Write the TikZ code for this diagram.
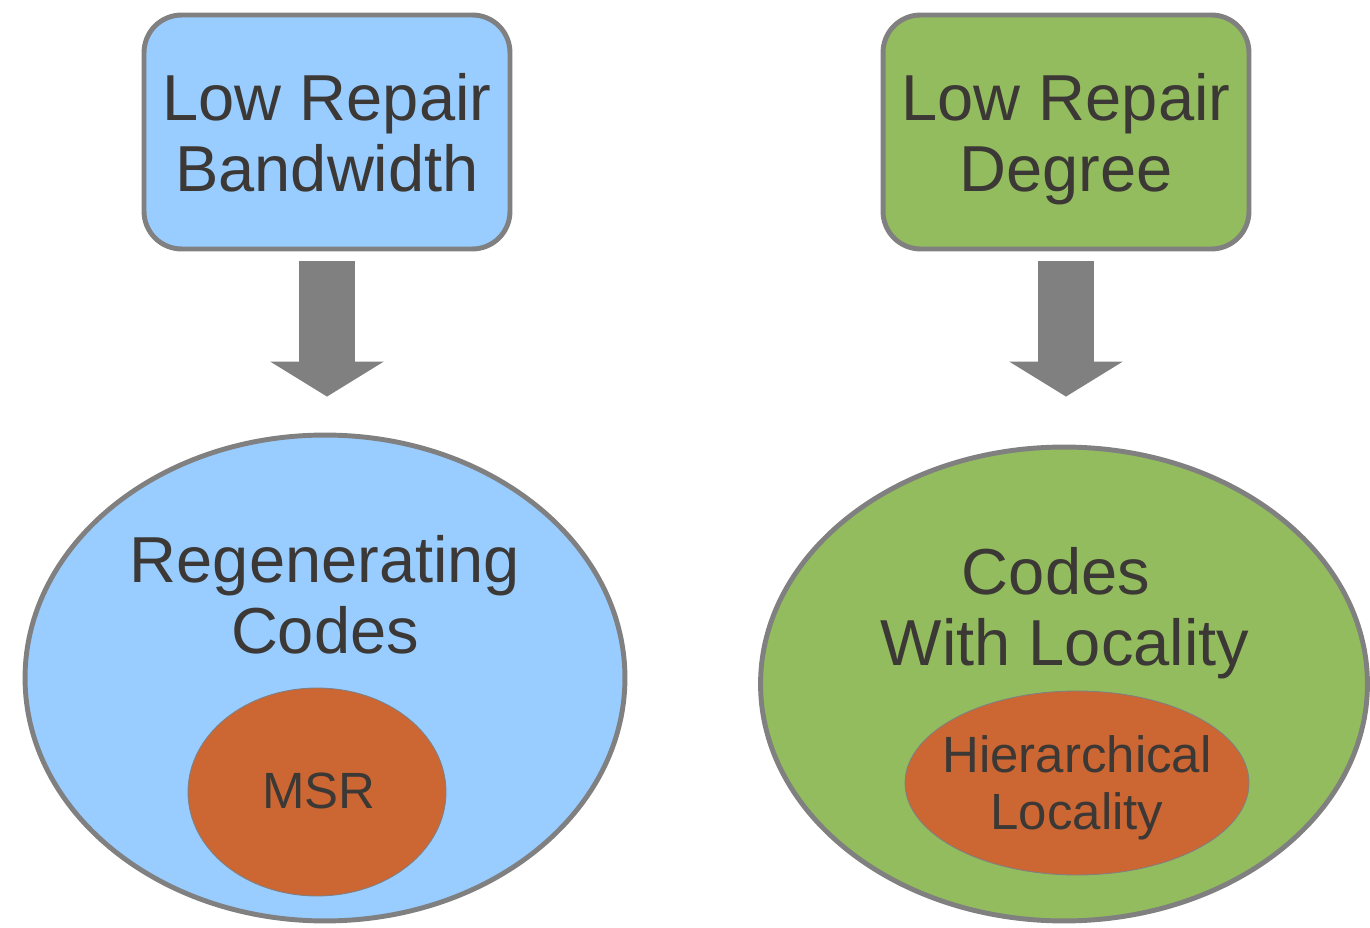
\documentclass[tikz,border=0pt]{standalone}
\usepackage{fontspec}
\setmainfont{Liberation Sans}
\usetikzlibrary{shapes.geometric,arrows.meta}
\definecolor{skyblue}{HTML}{99CCFF}
\definecolor{leafgreen}{HTML}{93BC5E}
\definecolor{rust}{HTML}{CC6633}
\definecolor{rim}{HTML}{808080}
\definecolor{ink}{HTML}{3B3835}
\def\bigfont{\fontsize{37}{40.4}\selectfont}
\def\smallfont{\fontsize{29}{32.4}\selectfont}
\tikzset{
  goalbox/.style={draw=rim, line width=2.8pt, rounded corners=0.75cm, minimum width=7.32cm, minimum height=4.68cm, text=ink, align=center, font=\bigfont, text depth=0pt},
  family/.style={ellipse, draw=rim, line width=2.8pt, inner sep=0pt},
  subfamily/.style={ellipse, draw=rim, line width=0.5pt, fill=rust, inner sep=0pt},
  bigtext/.style={text=ink, align=center, font=\bigfont, text depth=0pt, inner sep=0pt},
  smalltext/.style={text=ink, align=center, font=\smallfont, text depth=0pt, inner sep=0pt},
  bigarrow/.style={draw=rim, line width=1.12cm, -{Triangle[width=2.24cm,length=0.7cm]}}
}

\begin{document}
\begin{tikzpicture}[x=0.02cm, y=-0.02cm]
				\useasboundingbox (0,0) rectangle (1370,928);
				
				\node[goalbox, fill=skyblue] (bandwidth) at (327,132) {Low Repair\\Bandwidth};
				\node[goalbox, fill=leafgreen] (degree) at (1066,132) {Low Repair\\Degree};
				
				\node[family, fill=skyblue, minimum width=12cm, minimum height=9.72cm] (regen) at (325,678) {};
				\node[bigtext] (regentext) at (325,594) {Regenerating\\Codes};
				\node[subfamily, minimum width=5.16cm, minimum height=4.16cm] (msr) at (317,792) {};
				\node[smalltext] (msrtext) at (319,791) {MSR};
				
				\node[family, fill=leafgreen, minimum width=12.14cm, minimum height=9.48cm] (local) at (1064,684) {};
				\node[bigtext] (localtext) at (1065,606) {Codes\hspace*{0.28em}\\With Locality};
				\node[subfamily, minimum width=6.88cm, minimum height=3.68cm] (hier) at (1077,783) {};
				\node[smalltext] (hiertext) at (1077,783) {Hierarchical\\Locality};
				
				\draw[bigarrow, shorten <=0.2cm, shorten >=0.72cm] (bandwidth.south) -- (bandwidth.south |- regen.north);
				\draw[bigarrow, shorten <=0.2cm, shorten >=0.96cm] (degree.south) -- (degree.south |- local.north);
			\end{tikzpicture}
\end{document}
